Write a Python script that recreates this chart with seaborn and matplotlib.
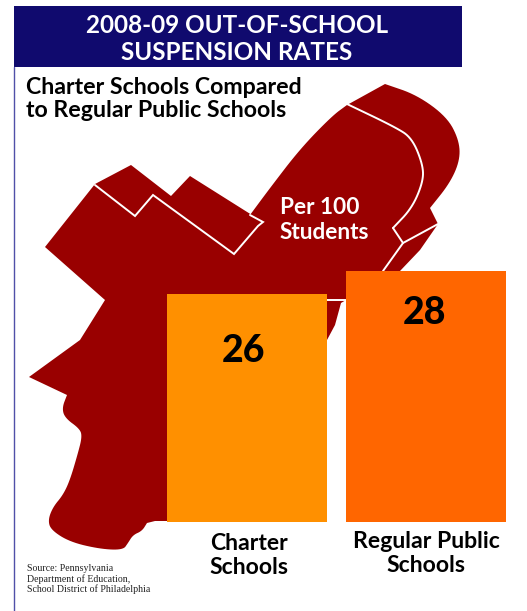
import matplotlib
matplotlib.use("Agg")
import matplotlib.pyplot as plt
import matplotlib.transforms as mtrans
import pandas as pd
import seaborn as sns

categories = ["Charter\nSchools", "Regular Public\nSchools"]
rates = [26, 28]
bar_colors = ["#FF9000", "#FF6600"]
title_text = "2008-09 OUT-OF-SCHOOL\nSUSPENSION RATES"
subtitle_text = "Charter Schools Compared\nto Regular Public Schools"
unit_text = "Per 100\nStudents"
source_text = "Source: Pennsylvania\nDepartment of Education,\nSchool District of Philadelphia"

# Decorative map backdrop (image pixel space); "curved" runs get rounded corners
north_x = [95,131,171,190,263,250]
north_y = [184,165,196,176,222,215]
shore_x = [250,270,300,332,347]
shore_y = [215,188,149,116,105]
cap_x = [347,385]
cap_y = [105,84]
east_x = [385,417,447,459,460,450,430]
east_y = [84,95,117,140,160,183,208]
river_x = [430,438,420,400,383,346,346,341,335,327,300,167,167,155,147]
river_y = [208,224,250,271,271,271,300,303,325,340,400,480,521,521,523]
south_x = [147,142,133,128,123,100,70,51,48,53,63,70,78,82,80,65,62,67]
south_y = [523,531,535,543,550,549,542,530,520,507,495,480,453,437,429,418,408,395]
west_x = [67,29,80,105,45,95]
west_y = [395,377,340,300,247,184]

line_a_x = [95,135,153,234,258,263,250]
line_a_y = [185,216,195,254,226,222,215]
line_b_x = [347,395,412,423,423,412,393]
line_b_y = [104,127,138,165,182,208,228]
line_b2_x = [393,403,438]
line_b2_y = [228,243,224]
line_c_x = [403,383]
line_c_y = [243,271]
line_d_x = [327,347]
line_d_y = [300,300]


def rounded(xs, ys, rounds=3):
    """Corner-cutting so a hand-read outline run reads as a curve."""
    pts = list(zip(xs, ys))
    for _ in range(rounds):
        out = [pts[0]]
        for (x0, y0), (x1, y1) in zip(pts[:-1], pts[1:]):
            out.append((0.75 * x0 + 0.25 * x1, 0.75 * y0 + 0.25 * y1))
            out.append((0.25 * x0 + 0.75 * x1, 0.25 * y0 + 0.75 * y1))
        out.append(pts[-1])
        pts = out
    return [p[0] for p in pts], [p[1] for p in pts]


parts = [(north_x, north_y, False), (shore_x, shore_y, True), (cap_x, cap_y, False),
         (east_x, east_y, True), (river_x, river_y, False), (south_x, south_y, True),
         (west_x, west_y, False)]
outline_x, outline_y = [], []
for px, py, curved in parts:
    qx, qy = rounded(px, py) if curved else (px, py)
    outline_x += list(qx)
    outline_y += list(qy)

W, H = 527, 611
sns.set_theme(style="white", rc={"axes.facecolor": "none"})
plt.rcParams["font.family"] = ["Lato", "DejaVu Sans"]
fig = plt.figure(figsize=(W / 100, H / 100), dpi=100, facecolor="white")

# Backdrop layer in pixel coordinates
bg = fig.add_axes([0, 0, 1, 1], zorder=0)
bg.set_xlim(0, W)
bg.set_ylim(H, 0)
bg.axis("off")
bg.fill(outline_x, outline_y, color="#990000", lw=0)
curve_bx, curve_by = rounded(line_b_x, line_b_y)
for lx, ly in [(line_a_x, line_a_y), (curve_bx, curve_by), (line_b2_x, line_b2_y),
               (line_c_x, line_c_y), (line_d_x, line_d_y)]:
    bg.plot(lx, ly, color="white", lw=1.4, solid_joinstyle="miter")
bg.plot([14, 14], [67, 611], color="#5050A8", lw=1.0)
bg.fill([14, 462, 462, 14], [6, 6, 67, 67], color="#100A6E", lw=0)
bg.text(237, 39, title_text, color="white", fontsize=17.5, fontweight="bold",
        ha="center", va="center", linespacing=1.2)
bg.text(26, 99, subtitle_text, color="black", fontsize=16.7, fontweight="bold",
        ha="left", va="center", linespacing=1.14)
bg.text(280, 220, unit_text, color="white", fontsize=16.3, fontweight="bold",
        ha="left", va="center", linespacing=1.2)
bg.text(27, 579, source_text, color="#222222", fontsize=7.1, family="Liberation Serif",
        ha="left", va="center", linespacing=1.05)

# Bars on a real value axis
left, right, bottom, top = 167, 506, 521.5, 271
ax = fig.add_axes([left / W, 1 - bottom / H, (right - left) / W, (bottom - top) / H], zorder=1)
df = pd.DataFrame({"category": categories, "rate": rates})
bar_w = 0.891
sns.barplot(data=df, x="category", y="rate", hue="category", palette=bar_colors,
            width=bar_w, dodge=False, legend=False, saturation=1, linewidth=0, ax=ax)
ax.set_xlim(-bar_w / 2, 1 + bar_w / 2)
ax.set_ylim(28 - (bottom - top) / 11.25, 28)
ax.set_xlabel("")
ax.set_ylabel("")
ax.set_yticks([])
sns.despine(ax=ax, left=True, bottom=True)
ax.tick_params(axis="x", length=0, pad=8.5)
label_shift = [(2.5, 0), (0, 2)]
for lab, (dx, dy) in zip(ax.get_xticklabels(), label_shift):
    lab.set_fontsize(16.6)
    lab.set_fontweight("bold")
    lab.set_color("black")
    lab.set_linespacing(1.15)
    lab.set_transform(lab.get_transform() + mtrans.ScaledTranslation(dx / 100, dy / 100, fig.dpi_scale_trans))

value_drop = [58, 42]
value_dx = [-3, -2]
for i, v in enumerate(rates):
    ax.annotate(str(v), xy=(i, v), xytext=(value_dx[i] * 0.72, -value_drop[i] * 0.72),
                textcoords="offset points", ha="center", va="center",
                fontsize=27, fontweight="black", color="black")

fig.savefig("out.png", dpi=100)
